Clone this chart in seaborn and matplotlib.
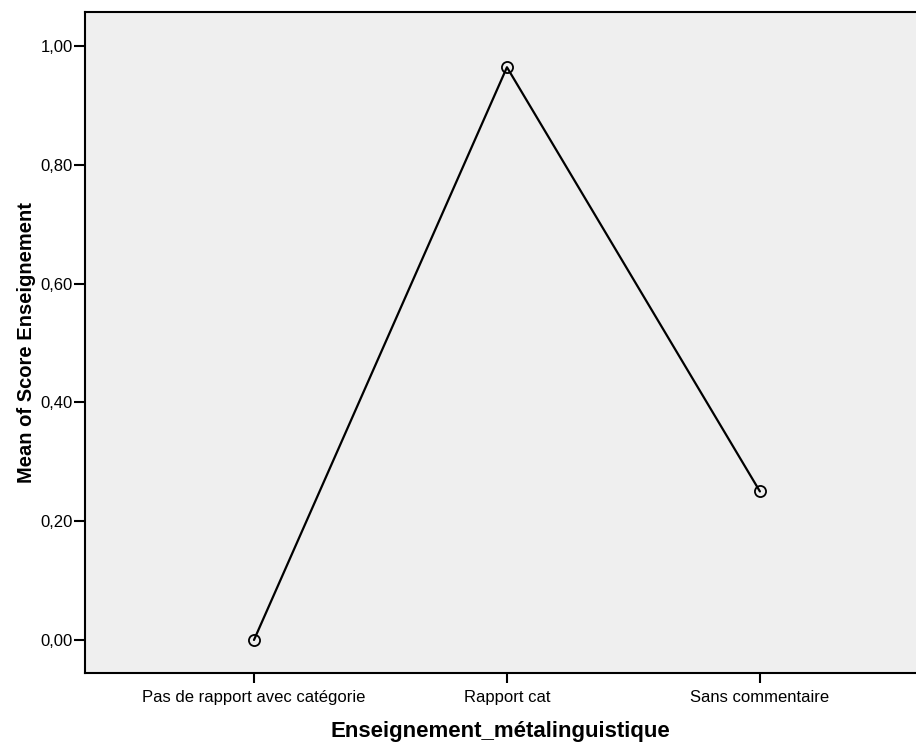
import pandas as pd
import matplotlib
matplotlib.use("Agg")
import matplotlib.pyplot as plt
import seaborn as sns

categories = ["Pas de rapport avec catégorie", "Rapport cat", "Sans commentaire"]
means = [0.0, 0.964, 0.25]
yticks = [0.0, 0.2, 0.4, 0.6, 0.8, 1.0]

df = pd.DataFrame({"cat": categories, "mean": means, "pos": range(len(categories))})

sns.set_style("ticks")
plt.rcParams['font.family'] = ['Liberation Sans', 'DejaVu Sans']
plt.rcParams['text.color'] = 'black'
plt.rcParams['axes.labelcolor'] = 'black'
plt.rcParams['xtick.color'] = 'black'
plt.rcParams['ytick.color'] = 'black'

fig = plt.figure(figsize=(9.16, 7.44), dpi=100)
ax = fig.add_axes([85 / 916, 71 / 744, 831 / 916, 661 / 744])
ax.set_facecolor("#efefef")

sns.lineplot(data=df, x="pos", y="mean", ax=ax, color="black", linewidth=1.6,
             marker="o", markersize=8, markerfacecolor="none",
             markeredgecolor="black", markeredgewidth=1.3)

ax.set_xlim(-0.668, 2.617)
ax.set_ylim(-0.0556, 1.057)
ax.set_xticks(df["pos"])
ax.set_xticklabels(categories, fontsize=12)
ax.set_yticks(yticks)
ax.set_yticklabels([f"{v:.2f}".replace(".", ",") for v in yticks], fontsize=12)
ax.tick_params(axis="x", length=7, width=1.5, pad=5)
ax.tick_params(axis="y", length=8, width=1.5, pad=1)

ax.set_xlabel("Enseignement_métalinguistique", fontsize=16, fontweight="bold", labelpad=11.5)
ax.set_ylabel("Mean of Score Enseignement", fontsize=14.5, fontweight="bold", labelpad=3)

for s in ["left", "top", "bottom"]:
    ax.spines[s].set_linewidth(1.5)
    ax.spines[s].set_color("black")
ax.spines["right"].set_visible(False)

fig.savefig("out.png", dpi=100)
